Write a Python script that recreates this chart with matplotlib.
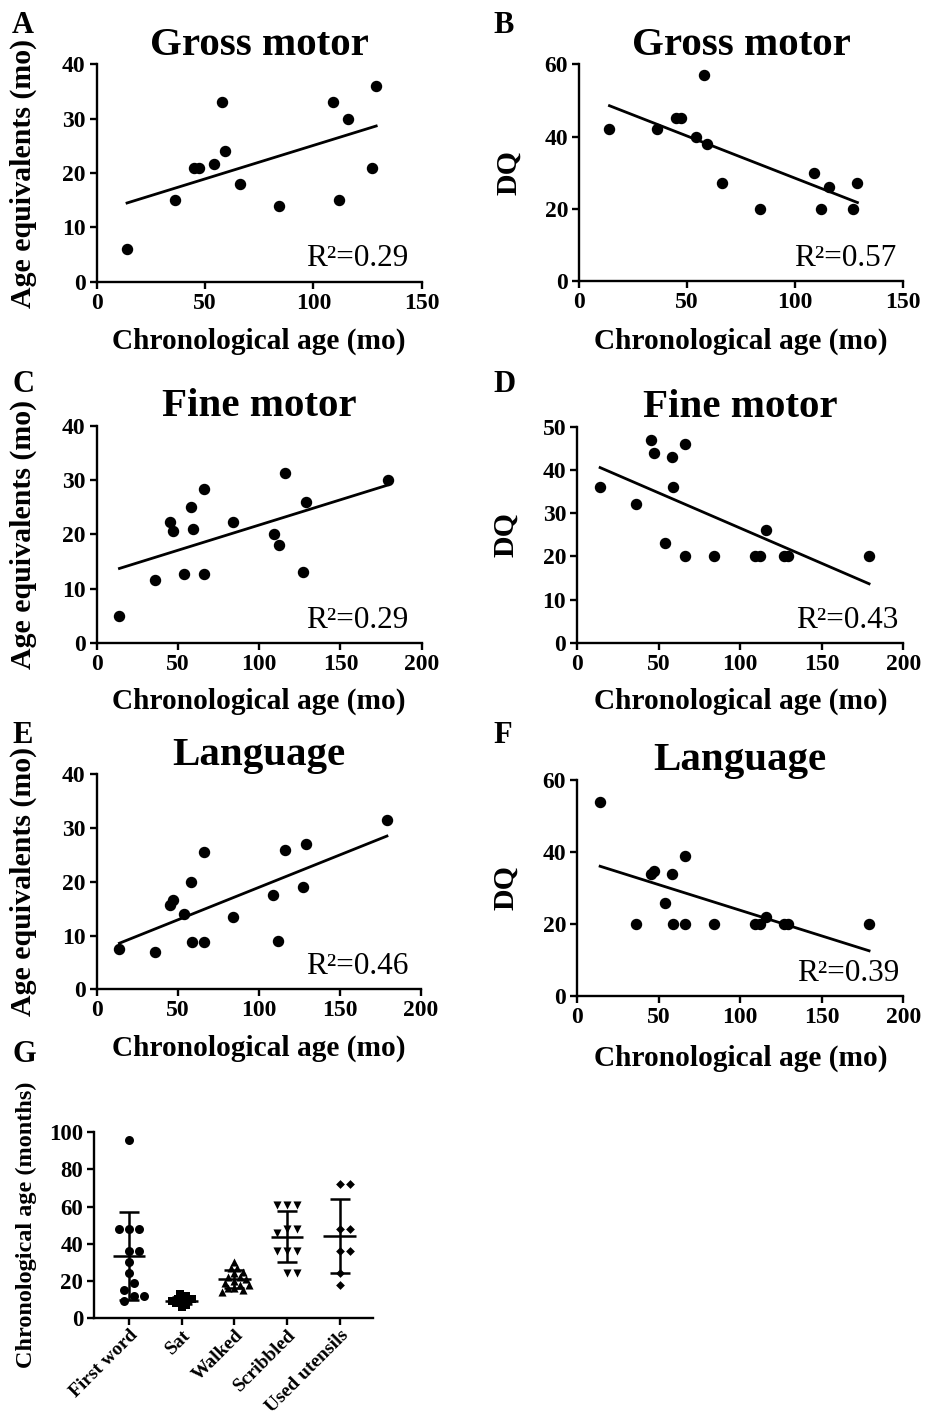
import numpy as np
import matplotlib
matplotlib.use("Agg")
from matplotlib import pyplot as plt

plt.rcParams['font.family'] = ['Liberation Serif', 'DejaVu Serif']
plt.rcParams['font.weight'] = 'bold'

# %% Data
age_gm = [14, 36, 45, 47, 54, 58, 59, 66, 84, 109, 112, 116, 127, 129]
gm_ae = [6, 15, 21, 21, 21.7, 33, 24, 18, 14, 33, 15, 30, 21, 36]
gm_dq = [42, 42, 45, 45, 40, 57, 38, 27, 20, 30, 20, 26, 20, 27]

age_fl = [14, 36, 45, 47, 54, 58, 59, 66, 66, 84, 109, 112, 116, 127, 129, 179]
fm_ae = [5, 11.5, 22.2, 20.7, 12.6, 25, 21, 28.4, 12.6, 22.2, 20.1, 18, 31.4, 13, 26, 30]
fm_dq = [36, 32, 47, 44, 23, 43, 36, 46, 20, 20, 20, 20, 26, 20, 20, 20]
lang_ae = [7.5, 7, 15.6, 16.6, 14, 20, 8.8, 25.5, 8.8, 13.5, 17.5, 9, 26, 19, 27, 31.5]
lang_dq = [54, 20, 34, 34.8, 25.8, 33.9, 20, 38.9, 20, 20, 20, 20, 22, 20, 20, 20]

r2_labels = ['0.29', '0.57', '0.29', '0.43', '0.46', '0.39']

milestones = ['First word', 'Sat', 'Walked', 'Scribbled', 'Used utensils']
first_word = [96, 48, 48, 48, 36, 36, 30, 24, 19, 15, 12, 12, 9]
sat = [6, 7, 8, 8, 9, 9, 9, 10, 10, 11, 12, 13]
walked = [30, 27, 27, 25, 24, 22, 22, 21, 20, 19, 18, 18, 16, 16, 15, 14]
scribbled = [61, 61, 61, 48, 48, 46, 36, 36, 36, 24, 24]
utensils = [72, 72, 48, 48, 36, 36, 24, 18]

# %% Figure
W, H = 925, 1419
fig = plt.figure(figsize=(W / 100, H / 100), dpi=100)


def px_rect(l, r, t, b):
    return [l / W, 1 - b / H, (r - l) / W, (b - t) / H]


def style(ax, ls=17):
    for s in ['top', 'right']:
        ax.spines[s].set_visible(False)
    for s in ['left', 'bottom']:
        ax.spines[s].set_linewidth(1.7)
    ax.tick_params(direction='out', length=5, width=1.7, labelsize=ls, pad=3)
    for lab in ax.get_xticklabels() + ax.get_yticklabels():
        lab.set_fontweight('bold')


panels = [
    ('A', 'Gross motor', age_gm, gm_ae, 'Age equivalents (mo)', 150, 40, 10,
     (96.7, 421.7, 64.3, 281.7), -0.184, -0.213, 0.958),
    ('B', 'Gross motor', age_gm, gm_dq, 'DQ', 150, 60, 20,
     (579.3, 902.7, 64.3, 281.0), -0.178, -0.217, 0.979),
    ('C', 'Fine motor', age_fl, fm_ae, 'Age equivalents (mo)', 200, 40, 10,
     (96.7, 421.7, 426.0, 642.7), -0.184, -0.209, 0.959),
    ('D', 'Fine motor', age_fl, fm_dq, 'DQ', 200, 50, 10,
     (577.3, 903.3, 426.7, 642.7), -0.178, -0.209, 0.985),
    ('E', 'Language', age_fl, lang_ae, 'Age equivalents (mo)', 200, 40, 10,
     (96.7, 421.0, 774.3, 989.3), -0.184, -0.213, 0.962),
    ('F', 'Language', age_fl, lang_dq, 'DQ', 200, 60, 20,
     (577.3, 903.3, 780.0, 996.0), -0.178, -0.227, 0.987),
]

for (letter, title, x, y, ylab, xmax, ymax, ystep, rect,
     ylx, xly, r2x), r2 in zip(panels, r2_labels):
    ax = fig.add_axes(px_rect(*rect))
    ax.scatter(x, y, s=52, color='black', zorder=3, clip_on=False)
    slope, icpt = np.polyfit(x, y, 1)
    xs = np.array([min(x), max(x)])
    ax.plot(xs, slope * xs + icpt, color='black', lw=2)
    ax.set_xlim(0, xmax)
    ax.set_ylim(0, ymax)
    ax.set_xticks(np.arange(0, xmax + 1, 50))
    ax.set_yticks(np.arange(0, ymax + 1, ystep))
    style(ax)
    ax.set_title(title, fontsize=29.5, fontweight='bold', pad=7)
    ax.set_ylabel(ylab, fontsize=21.5, fontweight='bold')
    ax.set_xlabel('Chronological age (mo)', fontsize=21.2, fontweight='bold')
    ax.yaxis.set_label_coords(ylx, 0.5)
    ax.xaxis.set_label_coords(0.5, xly)
    ax.text(r2x, 0.07, 'R\u00b2=' + r2, transform=ax.transAxes, ha='right',
            va='baseline', fontsize=22.5, fontweight='normal')

letter_pos = {'A': (12, 33), 'B': (493, 33), 'C': (12, 392), 'D': (493, 392),
              'E': (12, 743), 'F': (493, 743), 'G': (12, 1062)}
for k, (lx, ly) in letter_pos.items():
    fig.text(lx / W, 1 - ly / H, k, fontsize=22, fontweight='bold',
             ha='left', va='baseline')

# %% Panel G: milestones scatter with mean +/- SD
g_rect = (94.3, 373.3, 1132.3, 1318.0)
axg = fig.add_axes(px_rect(*g_rect))
groups = [first_word, sat, walked, scribbled, utensils]
markers = ['o', 's', '^', 'v', 'D']
msizes = [42, 34, 34, 34, 20]
spread = [10.0, 4.0, 6.0, 10.0, 10.0]
xlo, xhi, ylo, yhi = -0.66, 4.64, 0, 100
px_per_x = (g_rect[1] - g_rect[0]) / (xhi - xlo)
px_per_y = (g_rect[3] - g_rect[2]) / (yhi - ylo)


def swarm(vals, dmin=9.0):
    placed = []
    step = dmin / 2 / px_per_x
    cands = [0]
    for k in range(1, 12):
        cands += [k * step, -k * step]
    for v in vals:
        for c in cands:
            if all(np.hypot((c - pc) * px_per_x, (v - pv) * px_per_y) >= dmin
                   for pc, pv in placed):
                break
        placed.append((c, v))
    return [p[0] for p in placed]


for i, (vals, m, ms, d) in enumerate(zip(groups, markers, msizes, spread)):
    offs = swarm(vals, dmin=d)
    axg.scatter(np.array(offs) + i, vals, marker=m, s=ms, color='black',
                zorder=3, linewidths=0)
    mu = np.mean(vals)
    sd = np.std(vals, ddof=1)
    axg.hlines(mu, i - 0.31, i + 0.31, color='black', lw=1.8, zorder=4)
    axg.errorbar(i, mu, yerr=sd, fmt='none', ecolor='black', elinewidth=1.8,
                 capsize=7, capthick=1.8, zorder=4)

axg.set_xlim(xlo, xhi)
axg.set_ylim(ylo, yhi)
axg.set_yticks(np.arange(0, 101, 20))
axg.set_xticks(range(len(milestones)))
style(axg, ls=16.5)
axg.tick_params(axis='x', pad=1)
axg.set_xticklabels(milestones, rotation=45, ha='right',
                    rotation_mode='anchor', fontsize=14, fontweight='bold')
axg.set_ylabel('Chronological age (months)', fontsize=17.5, fontweight='bold')
axg.yaxis.set_label_coords((37 - g_rect[0]) / (g_rect[1] - g_rect[0]), 0.5)

fig.savefig('out.png', dpi=100)
